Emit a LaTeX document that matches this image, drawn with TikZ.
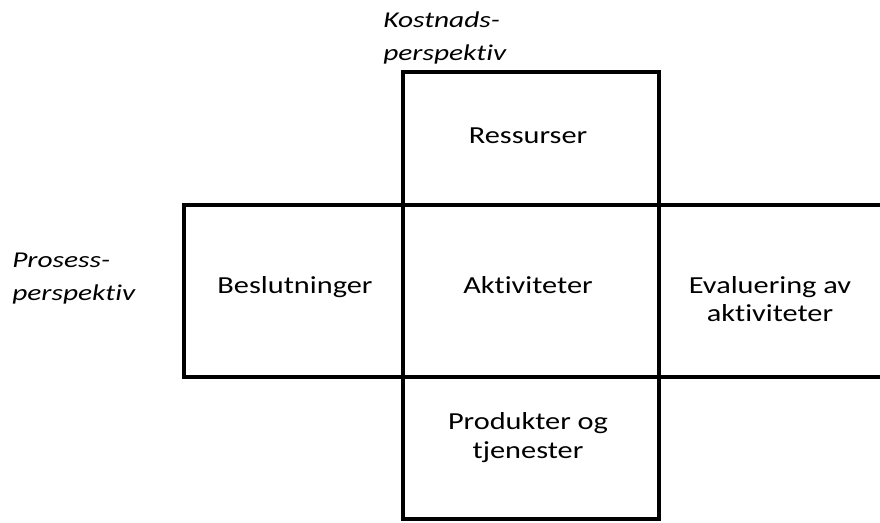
\documentclass[tikz,border=0pt]{standalone}
\usepackage{fontspec}
\setmainfont{Carlito}[Ligatures=NoCommon]
\newfontfamily\cellfont{Carlito}[FakeStretch=1.24,Ligatures=NoCommon]
\newfontfamily\perspfont{Carlito}[FakeStretch=1.3,Ligatures=NoCommon]
\usepackage{tikz}

\begin{document}
\begin{tikzpicture}[x=0.025cm,y=-0.025cm]
\tikzstyle{cell}=[draw=black,line width=3.3pt,inner sep=0pt]
\tikzstyle{lbl}=[inner sep=0pt,anchor=base,align=center,font=\cellfont\fontsize{17.4}{20.3}\selectfont]
\tikzstyle{persp}=[inner sep=0pt,anchor=base west,align=left,font=\perspfont\itshape\fontsize{16.1}{22.8}\selectfont]
\useasboundingbox (0,0) rectangle (880,522);
\clip (0,0) rectangle (880,522);

\node[cell,minimum width=256*0.025cm,minimum height=133*0.025cm] (R) at (531,138.5) {};
\node[cell,minimum width=219*0.025cm,minimum height=172*0.025cm] (B) at (293.5,291) {};
\node[cell,minimum width=256*0.025cm,minimum height=172*0.025cm] (A) at (531,291) {};
\node[cell,minimum width=260*0.025cm,minimum height=172*0.025cm] (E) at (789,291) {};
\node[cell,minimum width=256*0.025cm,minimum height=142*0.025cm] (P) at (531,448) {};

% base anchor = last line
\node[lbl] (Rt) at (528,143) {Ressurser};
\node[lbl] (Bt) at (295,293) {Beslutninger};
\node[lbl] (At) at (528,293) {Aktiviteter};
\node[lbl] (Et) at (770,321.7) {Evaluering av\\aktiviteter};
\node[lbl] (Pt) at (528,458) {Produkter og\\tjenester};

\node[persp] (K) at (383,60) {Kostnads-\\perspektiv};
\node[persp] (S) at (12,300) {Prosess-\\perspektiv};

\end{tikzpicture}
\end{document}
